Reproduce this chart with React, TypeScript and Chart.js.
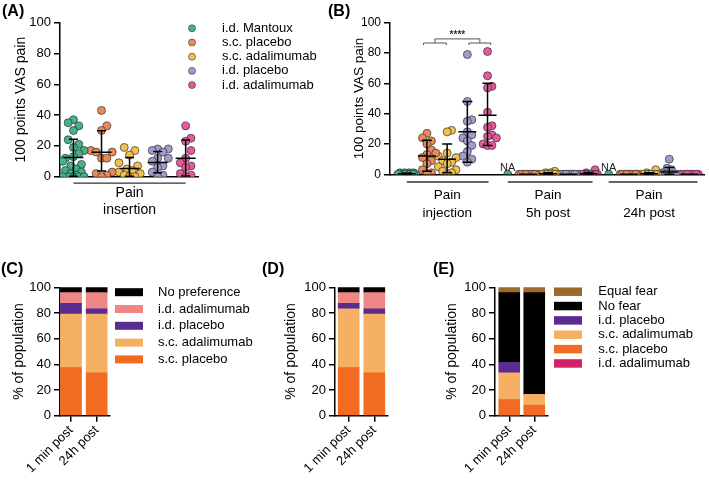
import React, { useEffect, useRef } from 'react';
import { Chart, registerables } from 'chart.js';

Chart.register(...registerables);

const FONT = '"Liberation Sans", Arial, Helvetica, sans-serif';
Chart.defaults.font.family = FONT;
Chart.defaults.color = '#000';

// ---------- shared labels / colours ----------
const TREATMENTS = ['i.d. Mantoux', 's.c. placebo', 's.c. adalimumab', 'i.d. placebo', 'i.d. adalimumab'];
const DOT_COLORS = ['#46B18D', '#EC8A57', '#F1C04F', '#A09DCC', '#E55A9C'];
const DOT_EDGE = 'rgba(45,45,45,0.85)';
const Y_TITLE_VAS = '100 points VAS pain';
const Y_TITLE_POP = '% of population';

// ---------- (A) pain at insertion ----------
const A_CATEGORY = ['Pain', 'insertion'];
const A_MANTOUX = [37, 35, 33, 30, 24, 21, 19, 17, 15, 13, 12, 10, 8, 7, 5, 4, 3, 2, 1, 0, 0, 0, 0, 0];
const A_SC_PLACEBO = [43, 33, 30, 17, 16, 16, 12, 12, 3, 2, 1, 0];
const A_SC_ADALIMUMAB = [19, 17, 14, 9, 7, 5, 4, 3, 2, 1, 0, 0];
const A_ID_PLACEBO = [18, 18, 17, 16, 12, 12, 10, 7, 6, 3, 1, 0];
const A_ID_ADALIMUMAB = [33, 25, 23, 17, 12, 9, 7, 6, 2, 1, 0];
const A_MEAN = [12.4, 15.8, 5.4, 9.3, 12];
const A_SD_LOW = [0.3, 3.7, 0.3, 2.6, 0.5];
const A_SD_HIGH = [24.3, 29.9, 12.4, 16.3, 23.8];

// ---------- (B) pain at injection / 5h / 24h ----------
const B_CATEGORIES = [['Pain', 'injection'], ['Pain', '5h post'], ['Pain', '24h post']];
const B_INJ_MANTOUX = [1, 1, 1, 1, 0, 0, 0, 0, 0, 0, 0, 0];
const B_INJ_SC_PLACEBO = [27, 24, 22, 20, 16, 14, 13, 11, 9, 7, 3, 1, 0];
const B_INJ_SC_ADALIMUMAB = [29, 28, 14, 12, 11, 9, 8, 7, 5, 3, 2, 1, 0];
const B_INJ_ID_PLACEBO = [79, 48, 36, 35, 28, 26, 24, 22, 19, 15, 12, 10, 8];
const B_INJ_ID_ADALIMUMAB = [81, 65, 58, 57, 41, 32, 31, 26, 25, 24, 20, 19, 19];
const B_5H_MANTOUX = [0];
const B_5H_SC_PLACEBO = [0, 0, 0, 0, 0, 0, 0, 0, 0, 0, 0, 0];
const B_5H_SC_ADALIMUMAB = [2, 1, 1, 0, 0, 0, 0, 0, 0, 0, 0, 0];
const B_5H_ID_PLACEBO = [0, 0, 0, 0, 0, 0, 0, 0, 0, 0, 0, 0];
const B_5H_ID_ADALIMUMAB = [3, 1, 0, 0, 0, 0, 0, 0, 0, 0, 0, 0];
const B_24H_MANTOUX = [0];
const B_24H_SC_PLACEBO = [0, 0, 0, 0, 0, 0, 0, 0, 0, 0, 0, 0];
const B_24H_SC_ADALIMUMAB = [3, 1, 0, 0, 0, 0, 0, 0, 0, 0, 0, 0];
const B_24H_ID_PLACEBO = [10, 4, 3, 1, 0, 0, 0, 0, 0, 0, 0, 0];
const B_24H_ID_ADALIMUMAB = [0, 0, 0, 0, 0, 0, 0, 0, 0, 0, 0, 0];
const B_MEAN = [0.3, 12, 10, 28, 39, null, 0, 0.3, 0, 0.3, null, 0, 0.3, 1.5, 0];
const B_SD_LOW = [0, 2, 1, 8, 19, null, 0, 0, 0, 0, null, 0, 0, 0, 0];
const B_SD_HIGH = [0.8, 22.5, 20, 48, 60, null, 0, 1, 0, 1.2, null, 0, 1, 4.5, 0];
const B_NA_SLOTS = [5, 10];
const B_SIGNIF = '****';

// ---------- (C) (D) (E) stacked bars ----------
const TIMES = ['1 min post', '24h post'];
const C_SC_PLACEBO = [37.5, 33.3];
const C_SC_ADALIMUMAB = [41.7, 45.8];
const C_ID_PLACEBO = [8.3, 4.2];
const C_ID_ADALIMUMAB = [8.3, 12.5];
const C_NO_PREFERENCE = [4.2, 4.2];

const D_SC_PLACEBO = [37.5, 33.3];
const D_SC_ADALIMUMAB = [45.8, 45.8];
const D_ID_PLACEBO = [4.2, 4.2];
const D_ID_ADALIMUMAB = [8.3, 12.5];
const D_NO_PREFERENCE = [4.2, 4.2];

const E_ID_ADALIMUMAB = [0, 0];
const E_SC_PLACEBO = [12.5, 8.3];
const E_SC_ADALIMUMAB = [20.8, 8.3];
const E_ID_PLACEBO = [8.3, 0];
const E_NO_FEAR = [54.2, 79.2];
const E_EQUAL_FEAR = [4.2, 4.2];

const BAR_SC_PLACEBO = '#F26B23';
const BAR_SC_ADA = '#F6B063';
const BAR_ID_PLACEBO = '#5B2C8F';
const BAR_ID_ADA = '#EF8585';
const BAR_ID_ADA_E = '#D3206B';
const BAR_BLACK = '#000000';
const BAR_EQUAL = '#9E6A2C';

// ---------- helpers ----------
function swarm(values: number[], step: number, thresh: number, maxSlot: number): number[] {
  const slots = [0];
  for (let k = 1; k <= maxSlot; k++) slots.push(k, -k);
  const extra = [0.5, -0.5, 1.5, -1.5];
  const placed: { v: number; s: number }[] = [];
  const out = new Array(values.length).fill(0);
  const order = values.map((_, i) => i).sort((a, b) => values[a] - values[b]);
  let f = 0;
  for (const i of order) {
    const v = values[i];
    let s = slots.find(c => !placed.some(p => Math.abs(p.s - c) < 0.9 && Math.abs(p.v - v) < thresh));
    if (s === undefined) { s = extra[f % extra.length]; f++; }
    placed.push({ v, s });
    out[i] = s * step;
  }
  return out;
}

type Deco = {
  letter?: { text: string; x: number; y: number };
  err?: { xs: number[]; mean: (number | null)[]; low: (number | null)[]; high: (number | null)[]; meanHalf: number; capHalf: number };
  underline?: { ranges: number[][]; dy: number };
  na?: { xs: number[]; dy: number };
  bracket?: { left: number[]; right: number[]; legY: number; barY: number; topY: number; textY: number; text: string };
  dots?: { x: number; y: number; dy: number; textX: number; r: number };
  boxes?: { x: number; y: number; dy: number; w: number; h: number; textX: number };
};

function makeDeco(d: Deco) {
  return {
    id: 'deco',
    afterDatasetsDraw(chart: any) {
      if (!d.err) return;
      const ctx = chart.ctx; const xs = chart.scales.x; const ys = chart.scales.y;
      const e = d.err;
      ctx.save();
      ctx.strokeStyle = '#000'; ctx.lineWidth = 1.5;
      e.xs.forEach((xv, i) => {
        const m = e.mean[i], lo = e.low[i], hi = e.high[i];
        if (m == null || lo == null || hi == null) return;
        const px = xs.getPixelForValue(xv);
        const pm = ys.getPixelForValue(m), pl = ys.getPixelForValue(lo), ph = ys.getPixelForValue(hi);
        ctx.beginPath();
        ctx.moveTo(px, pl); ctx.lineTo(px, ph);
        ctx.moveTo(px - e.capHalf, pl); ctx.lineTo(px + e.capHalf, pl);
        ctx.moveTo(px - e.capHalf, ph); ctx.lineTo(px + e.capHalf, ph);
        ctx.moveTo(px - e.meanHalf, pm); ctx.lineTo(px + e.meanHalf, pm);
        ctx.stroke();
      });
      ctx.restore();
    },
    afterDraw(chart: any) {
      const ctx = chart.ctx; const xs = chart.scales.x; const ys = chart.scales.y;
      const area = chart.chartArea;
      ctx.save();
      if (d.letter) {
        ctx.font = `bold 16px ${FONT}`; ctx.fillStyle = '#000'; ctx.textAlign = 'left'; ctx.textBaseline = 'middle';
        ctx.fillText(d.letter.text, d.letter.x, d.letter.y);
      }
      if (d.underline) {
        ctx.strokeStyle = '#333'; ctx.lineWidth = 1.3;
        d.underline.ranges.forEach(([a, b]) => {
          const y = area.bottom + d.underline!.dy;
          ctx.beginPath(); ctx.moveTo(xs.getPixelForValue(a), y); ctx.lineTo(xs.getPixelForValue(b), y); ctx.stroke();
        });
      }
      if (d.na) {
        ctx.font = `11px ${FONT}`; ctx.fillStyle = '#222'; ctx.textAlign = 'center'; ctx.textBaseline = 'middle';
        d.na.xs.forEach(v => ctx.fillText('NA', xs.getPixelForValue(v), area.bottom + d.na!.dy));
      }
      if (d.bracket) {
        const b = d.bracket;
        const X = (v: number) => xs.getPixelForValue(v); const Y = (v: number) => ys.getPixelForValue(v);
        ctx.strokeStyle = '#555'; ctx.lineWidth = 1;
        const lc = (b.left[0] + b.left[1]) / 2, rc = (b.right[0] + b.right[1]) / 2;
        ctx.beginPath();
        [b.left, b.right].forEach(([a, c]) => {
          ctx.moveTo(X(a), Y(b.legY)); ctx.lineTo(X(a), Y(b.barY)); ctx.lineTo(X(c), Y(b.barY)); ctx.lineTo(X(c), Y(b.legY));
        });
        ctx.moveTo(X(lc), Y(b.barY)); ctx.lineTo(X(lc), Y(b.topY)); ctx.lineTo(X(rc), Y(b.topY)); ctx.lineTo(X(rc), Y(b.barY));
        ctx.stroke();
        ctx.font = `bold 10px ${FONT}`; ctx.fillStyle = '#333'; ctx.textAlign = 'center'; ctx.textBaseline = 'middle';
        ctx.fillText(b.text, X((lc + rc) / 2), Y(b.textY));
      }
      if (d.dots) {
        const o = d.dots;
        chart.data.datasets.forEach((ds: any, i: number) => {
          const y = o.y + i * o.dy;
          ctx.beginPath(); ctx.arc(o.x, y, o.r, 0, Math.PI * 2);
          ctx.fillStyle = ds.backgroundColor; ctx.fill();
          ctx.strokeStyle = DOT_EDGE; ctx.lineWidth = 0.7; ctx.stroke();
          ctx.font = `13px ${FONT}`; ctx.fillStyle = '#000'; ctx.textAlign = 'left'; ctx.textBaseline = 'middle';
          ctx.fillText(ds.label, o.textX, y);
        });
      }
      if (d.boxes) {
        const o = d.boxes;
        const list = chart.data.datasets.slice().reverse();
        list.forEach((ds: any, i: number) => {
          const y = o.y + i * o.dy;
          ctx.fillStyle = ds.backgroundColor; ctx.fillRect(o.x, y - o.h / 2, o.w, o.h);
          ctx.font = `13px ${FONT}`; ctx.fillStyle = '#000'; ctx.textAlign = 'left'; ctx.textBaseline = 'middle';
          ctx.fillText(ds.label, o.textX, y);
        });
      }
      ctx.restore();
    },
  };
}

function yAxis(title: string, titleSize: number, tickSize: number, width: number, titleCenter: number, stacked = false) {
  const lh = 1.2;
  return {
    position: 'left', min: 0, max: 100, stacked,
    ticks: { stepSize: 20, color: '#000', font: { size: tickSize }, padding: 3 },
    grid: { display: true, drawOnChartArea: false, drawTicks: true, tickLength: 6, color: '#000', lineWidth: 1.5 },
    border: { display: true, color: '#000', width: 1.5 },
    title: { display: true, text: title, color: '#000', font: { size: titleSize, lineHeight: lh }, padding: { top: titleCenter - (titleSize * lh) / 2, bottom: 0 } },
    afterFit: (s: any) => { s.width = width; },
  };
}

function xScatter(min: number, max: number, centers: number[], labels: string[][], size: number, lh: number, padding: number, height: number) {
  return {
    type: 'linear', position: 'bottom', min, max, z: 1,
    afterBuildTicks: (s: any) => { s.ticks = centers.map(v => ({ value: v })); },
    ticks: { autoSkip: false, minRotation: 0, maxRotation: 0, color: '#000', font: { size, lineHeight: lh }, padding, callback: (_v: any, i: number) => labels[i] },
    grid: { display: false, drawTicks: false },
    border: { display: true, color: '#000', width: 1.5 },
    afterFit: (s: any) => { s.height = height; },
  };
}

function xBars(min: number, max: number, height: number) {
  return {
    type: 'linear', position: 'bottom', min, max, stacked: true, offset: false,
    afterBuildTicks: (s: any) => { s.ticks = TIMES.map((_, i) => ({ value: i })); },
    ticks: { autoSkip: false, minRotation: 45, maxRotation: 45, color: '#000', font: { size: 13 }, padding: 1, callback: (_v: any, i: number) => TIMES[i] },
    grid: { display: true, offset: false, drawOnChartArea: false, drawTicks: true, tickLength: 6, color: '#000', lineWidth: 1.5 },
    border: { display: true, color: '#000', width: 1.5 },
    afterFit: (s: any) => { s.height = height; },
  };
}

function dotDataset(label: string, color: string, pts: { x: number; y: number }[]) {
  return {
    label, data: pts, backgroundColor: color,
    pointBackgroundColor: color, pointBorderColor: DOT_EDGE, pointBorderWidth: 0.8, pointRadius: 4, pointHoverRadius: 4,
  };
}

function barDataset(label: string, color: string, values: number[]) {
  return { label, backgroundColor: color, borderWidth: 0, barThickness: 21, data: values.map((v, i) => ({ x: i, y: v })) };
}

const basePlugins = { legend: { display: false }, tooltip: { enabled: false } };

// ---------- configs ----------
function configA(): any {
  const groups = [A_MANTOUX, A_SC_PLACEBO, A_SC_ADALIMUMAB, A_ID_PLACEBO, A_ID_ADALIMUMAB];
  const datasets = groups.map((vals, g) => {
    const off = swarm(vals, 0.19, 5.5, 2);
    return dotDataset(TREATMENTS[g], DOT_COLORS[g], vals.map((v, i) => ({ x: g + off[i], y: v })));
  });
  return {
    type: 'scatter',
    data: { datasets },
    options: {
      responsive: false, animation: false, devicePixelRatio: 1,
      layout: { padding: { top: 22.7, left: 0, right: 142, bottom: 0 } },
      plugins: basePlugins,
      scales: {
        x: xScatter(-0.48, 4.44, [2], [A_CATEGORY], 14, 1.21, 7.8, 53.3),
        y: yAxis(Y_TITLE_VAS, 14, 13, 60, 21),
      },
    },
    plugins: [makeDeco({
      letter: { text: '(A)', x: 2, y: 12 },
      err: { xs: [0, 1, 2, 3, 4], mean: A_MEAN, low: A_SD_LOW, high: A_SD_HIGH, meanHalf: 10, capHalf: 4.5 },
      underline: { ranges: [[0, 4]], dy: 6.5 },
      dots: { x: 192, y: 28.3, dy: 14.2, textX: 222, r: 3.5 },
    })],
  };
}

function configB(): any {
  const perTreatment = [
    [B_INJ_MANTOUX, B_5H_MANTOUX, B_24H_MANTOUX],
    [B_INJ_SC_PLACEBO, B_5H_SC_PLACEBO, B_24H_SC_PLACEBO],
    [B_INJ_SC_ADALIMUMAB, B_5H_SC_ADALIMUMAB, B_24H_SC_ADALIMUMAB],
    [B_INJ_ID_PLACEBO, B_5H_ID_PLACEBO, B_24H_ID_PLACEBO],
    [B_INJ_ID_ADALIMUMAB, B_5H_ID_ADALIMUMAB, B_24H_ID_ADALIMUMAB],
  ];
  const datasets = perTreatment.map((times, g) => {
    const pts: { x: number; y: number }[] = [];
    times.forEach((vals, t) => {
      const off = swarm(vals, 0.22, 5.5, 2);
      vals.forEach((v, i) => pts.push({ x: t * 5 + g + off[i], y: v }));
    });
    return dotDataset(TREATMENTS[g], DOT_COLORS[g], pts);
  });
  const xsErr = B_MEAN.map((_, i) => i);
  return {
    type: 'scatter',
    data: { datasets },
    options: {
      responsive: false, animation: false, devicePixelRatio: 1,
      layout: { padding: { top: 22.7, left: 0, right: 1, bottom: 0 } },
      plugins: basePlugins,
      scales: {
        x: xScatter(-0.83, 14.73, [2, 7, 12], B_CATEGORIES, 13.5, 1.33, 11.7, 55.7),
        y: yAxis(Y_TITLE_VAS, 13.5, 12, 70, 39),
      },
    },
    plugins: [makeDeco({
      letter: { text: '(B)', x: 8, y: 12 },
      err: { xs: xsErr, mean: B_MEAN, low: B_SD_LOW, high: B_SD_HIGH, meanHalf: 9, capHalf: 5 },
      underline: { ranges: [[0, 4.05], [5, 9.2], [10, 14.4]], dy: 7.7 },
      na: { xs: B_NA_SLOTS, dy: -6.5 },
      bracket: { left: [0.83, 1.96], right: [3.08, 4.16], legY: 85.3, barY: 86.6, topY: 89.3, textY: 92, text: B_SIGNIF },
    })],
  };
}

function barConfig(datasets: any[], xmin: number, xmax: number, yWidth: number, titleCenter: number, padRight: number, deco: Deco): any {
  return {
    type: 'bar',
    data: { datasets },
    options: {
      responsive: false, animation: false, devicePixelRatio: 1,
      layout: { padding: { top: 32.3, left: 0, right: padRight, bottom: 0 } },
      plugins: basePlugins,
      scales: {
        x: xBars(xmin, xmax, 64.3),
        y: yAxis(Y_TITLE_POP, 14, 13, yWidth, titleCenter, true),
      },
    },
    plugins: [makeDeco(deco)],
  };
}

function configC(): any {
  return barConfig([
    barDataset('s.c. placebo', BAR_SC_PLACEBO, C_SC_PLACEBO),
    barDataset('s.c. adalimumab', BAR_SC_ADA, C_SC_ADALIMUMAB),
    barDataset('i.d. placebo', BAR_ID_PLACEBO, C_ID_PLACEBO),
    barDataset('i.d. adalimumab', BAR_ID_ADA, C_ID_ADALIMUMAB),
    barDataset('No preference', BAR_BLACK, C_NO_PREFERENCE),
  ], -0.43, 1.52, 60, 19, 155, {
    letter: { text: '(C)', x: 1, y: 15 },
    boxes: { x: 115, y: 37.2, dy: 16.8, w: 28, h: 8, textX: 158 },
  });
}

function configD(): any {
  return barConfig([
    barDataset('s.c. placebo', BAR_SC_PLACEBO, D_SC_PLACEBO),
    barDataset('s.c. adalimumab', BAR_SC_ADA, D_SC_ADALIMUMAB),
    barDataset('i.d. placebo', BAR_ID_PLACEBO, D_ID_PLACEBO),
    barDataset('i.d. adalimumab', BAR_ID_ADA, D_ID_ADALIMUMAB),
    barDataset('No preference', BAR_BLACK, D_NO_PREFERENCE),
  ], -0.535, 1.535, 80, 36, 67, {
    letter: { text: '(D)', x: 7, y: 15 },
  });
}

function configE(): any {
  return barConfig([
    barDataset('i.d. adalimumab', BAR_ID_ADA_E, E_ID_ADALIMUMAB),
    barDataset('s.c. placebo', BAR_SC_PLACEBO, E_SC_PLACEBO),
    barDataset('s.c. adalimumab', BAR_SC_ADA, E_SC_ADALIMUMAB),
    barDataset('i.d. placebo', BAR_ID_PLACEBO, E_ID_PLACEBO),
    barDataset('No fear', BAR_BLACK, E_NO_FEAR),
    barDataset('Equal fear', BAR_EQUAL, E_EQUAL_FEAR),
  ], -0.57, 1.55, 70, 27, 161, {
    letter: { text: '(E)', x: 8, y: 15 },
    boxes: { x: 129, y: 36.7, dy: 14.35, w: 28, h: 8.5, textX: 173.3 },
  });
}

function ChartCanvas({ left, top, width, height, make }: { left: number; top: number; width: number; height: number; make: () => any }) {
  const ref = useRef<HTMLCanvasElement>(null);
  useEffect(() => {
    const chart = new Chart(ref.current as HTMLCanvasElement, make());
    return () => chart.destroy();
  }, []);
  return <canvas ref={ref} width={width} height={height} style={{ position: 'absolute', left, top, width, height }} />;
}

export default function App() {
  return (
    <div style={{ position: 'absolute', left: 0, top: 0, width: 709, height: 480, background: '#fff', overflow: 'hidden' }}>
      <ChartCanvas left={0} top={0} width={340} height={230} make={configA} />
      <ChartCanvas left={320} top={0} width={389} height={230} make={configB} />
      <ChartCanvas left={0} top={255} width={265} height={225} make={configC} />
      <ChartCanvas left={255} top={255} width={200} height={225} make={configD} />
      <ChartCanvas left={425} top={255} width={284} height={225} make={configE} />
    </div>
  );
}
